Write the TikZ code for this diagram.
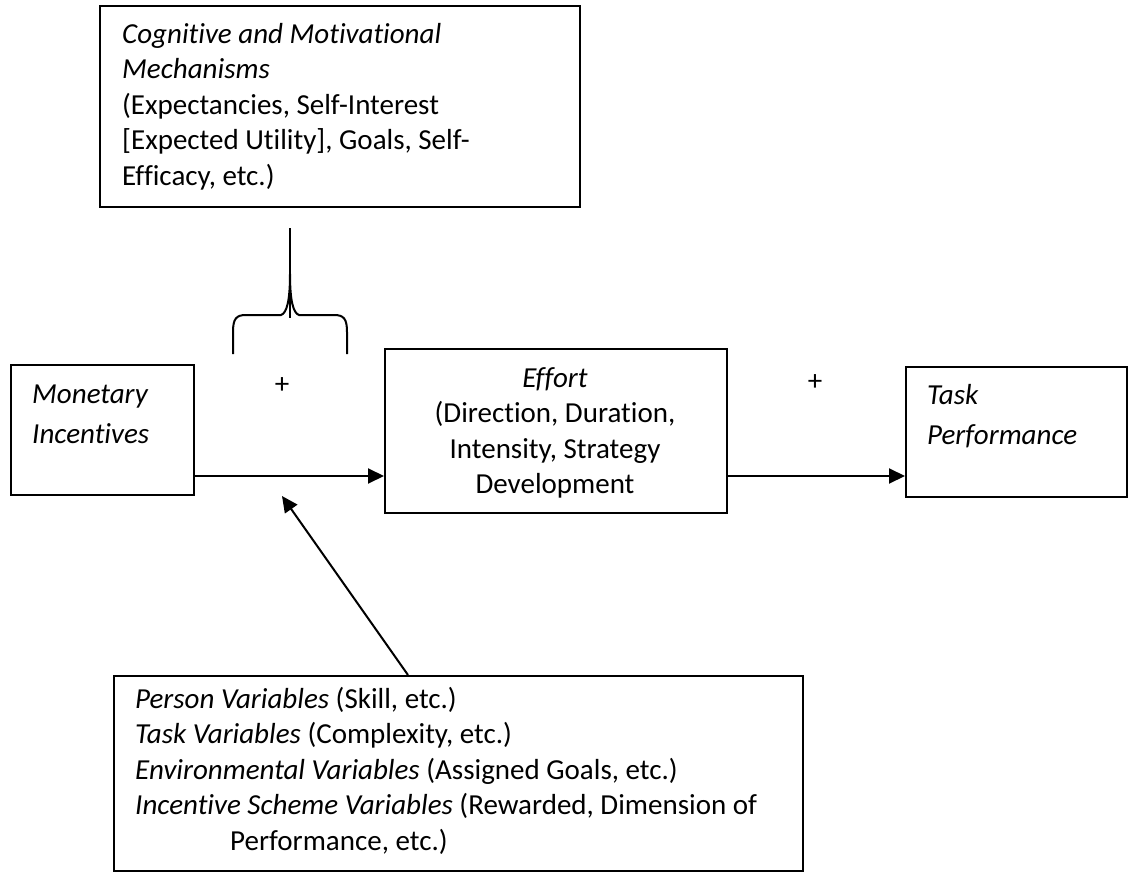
\documentclass[tikz,border=0pt]{standalone}
\usepackage{fontspec}
\setmainfont{Carlito}[Ligatures=NoCommon]
\usetikzlibrary{arrows.meta}
\begin{document}
\begin{tikzpicture}[x=1pt,y=-1pt,
  box/.style={draw, line width=2pt, inner sep=0pt, anchor=north west},
  txt/.style={inner sep=0pt, anchor=north west, align=left, font=\fontsize{29}{35.5}\selectfont},
  conn/.style={line width=2pt, -{Triangle[length=16pt,width=15pt]}},
  plus/.style={inner sep=0pt, font=\fontsize{29}{35.5}\selectfont},
  bracepath/.style={line width=2pt}]
\useasboundingbox (0,0) rectangle (1128,872);
% boxes
\node[box, minimum width=480pt, minimum height=201pt] (cog) at (99,5) {};
\node[box, minimum width=183pt, minimum height=130pt] (mon) at (10,364) {};
\node[box, minimum width=342pt, minimum height=164pt] (eff) at (384,348) {};
\node[box, minimum width=221pt, minimum height=130pt] (task) at (905,366) {};
\node[box, minimum width=689pt, minimum height=195pt] (vars) at (113,675) {};
% texts
\node[txt] (cogtxt) at (122,18.15) {\strut\textit{Cognitive and Motivational}\\\textit{Mechanisms}\\(Expectancies, Self-Interest\\{[}Expected Utility{]}, Goals, Self-\\Efficacy, etc.)};
\node[txt] (montxt) at (32,378.15) {\strut\textit{Monetary}\\[4.5pt]\textit{Incentives}};
\node[txt, anchor=north, align=center] (efftxt) at (555,362.15) {\strut\textit{Effort}\\(Direction, Duration,\\Intensity, Strategy\\Development};
\node[txt] (tasktxt) at (927,379.15) {\strut\textit{Task}\\[4.5pt]\textit{Performance}};
\node[txt] (varstxt) at (135,683.15) {\strut\textit{Person Variables} (Skill, etc.)\\\textit{Task Variables} (Complexity, etc.)\\\textit{Environmental Variables} (Assigned Goals, etc.)\\\textit{Incentive Scheme Variables} (Rewarded, Dimension of\\\hspace*{95pt}Performance, etc.)};
% plus signs
\node[plus] (p1) at (282,386) {+};
\node[plus] (p2) at (815,383) {+};
% connectors
\coordinate (yrow) at (0,476);
\draw[conn] (mon.east |- yrow) -- (eff.west |- yrow);
\draw[conn] (eff.east |- yrow) -- (task.west |- yrow);
\coordinate (dstart) at (408,675);
\coordinate (dend) at (282,496);
\draw[conn] (dstart) -- (dend);
% brace and line
\coordinate (vtop) at (290,228);
\coordinate (vbot) at (290,318);
\draw[bracepath] (vtop) -- (vbot);
\draw[bracepath] (233,354) -- (233,332) .. controls (233,319) and (236,315) .. (246,315) -- (281,315) .. controls (287,313) and (290,300) .. (290,274) .. controls (290,300) and (293,313) .. (299,315) -- (334,315) .. controls (344,315) and (347,319) .. (347,332) -- (347,354);
\end{tikzpicture}
\end{document}
